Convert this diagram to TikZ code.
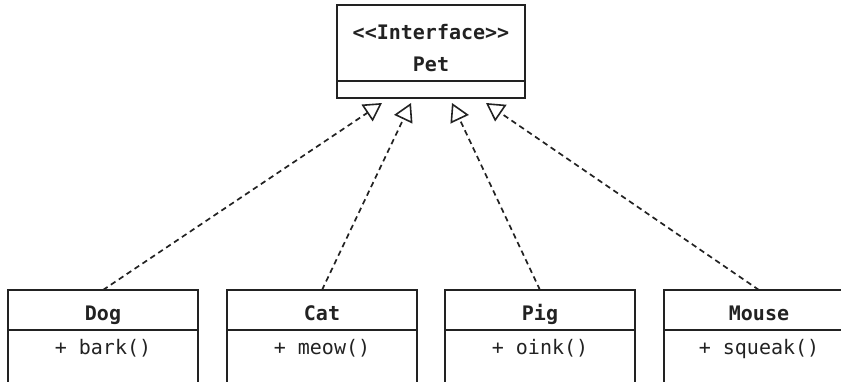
\documentclass[tikz,border=0pt]{standalone}
\usepackage{fontspec}
\setmonofont{DejaVu Sans Mono}
\usetikzlibrary{arrows.meta,calc}
\definecolor{ink}{HTML}{222222}
\begin{document}
\begin{tikzpicture}[x=1pt,y=-1pt,
  txt/.style={font=\fontsize{20}{24}\selectfont\ttfamily, text=ink},
  boldtxt/.style={font=\fontsize{20}{24}\selectfont\ttfamily\bfseries, text=ink},
  boxpart/.style={draw=ink, line width=2.1pt, minimum width=190pt, inner sep=0pt, outer sep=0pt, txt},
  titlepart/.style={boxpart, minimum height=40pt, boldtxt, text height=20pt, text depth=0pt},
  bodypart/.style={boxpart, anchor=north, text height=24pt, text depth=100pt},
  real/.style={dash pattern=on 5.5pt off 4pt, line width=1.7pt, draw=ink,
    -{Triangle[open, length=18pt, width=20pt, line width=1.6pt]}}
]
\useasboundingbox (0,0) rectangle (841,381);
\clip (0,0) rectangle (841,381);
% Interface
\node[boxpart, minimum width=188pt, minimum height=76pt] (pet) at (431,43) {};
\node[boxpart, minimum width=188pt, minimum height=17pt, anchor=north] (petb) at (pet.south) {};
\node[boldtxt] (petst) at (431,32) {<{}<Interface>{}>};
\node[boldtxt] (petname) at (431,64) {Pet};
% classes
\node[titlepart] (dog) at (103,310) {Dog};
\node[bodypart] (dogb) at (dog.south) {+ bark()};
\node[titlepart] (cat) at (322,310) {Cat};
\node[bodypart] (catb) at (cat.south) {+ meow()};
\node[titlepart] (pig) at (540,310) {Pig};
\node[bodypart] (pigb) at (pig.south) {+ oink()};
\node[titlepart] (mouse) at (759,310) {Mouse};
\node[bodypart] (mouseb) at (mouse.south) {+ squeak()};
% arrow tips
\coordinate (t1) at ([xshift=-49pt,yshift=-5pt]petb.south);
\coordinate (t2) at ([xshift=-20pt,yshift=-5pt]petb.south);
\coordinate (t3) at ([xshift=21pt,yshift=-5pt]petb.south);
\coordinate (t4) at ([xshift=55pt,yshift=-5pt]petb.south);
\draw[real] (dog.north) -- (t1);
\draw[real] (cat.north) -- (t2);
\draw[real] (pig.north) -- (t3);
\draw[real] (mouse.north) -- (t4);
\end{tikzpicture}
\end{document}
